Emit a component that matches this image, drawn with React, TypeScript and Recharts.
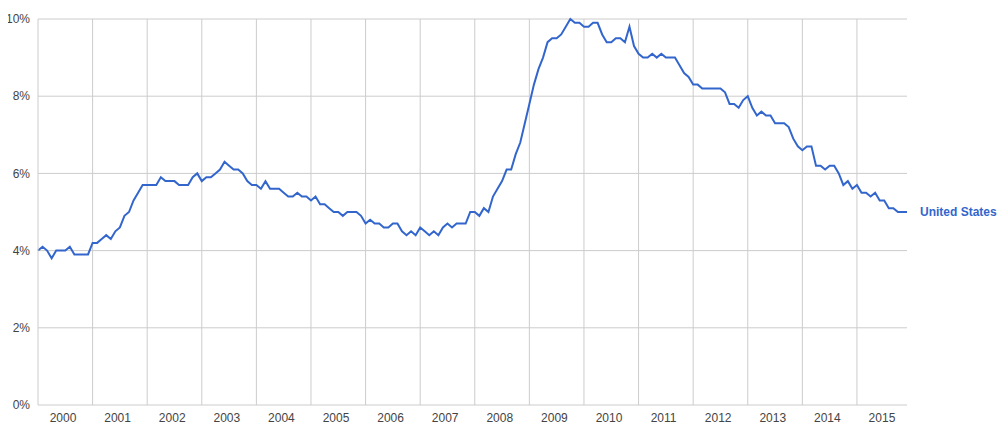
import React from 'react';
import {
  LineChart,
  Line,
  XAxis,
  YAxis,
  CartesianGrid,
  ReferenceLine
} from 'recharts';

// monthly unemployment rate (%), Jan..Dec for each year
const years = [2000, 2001, 2002, 2003, 2004, 2005, 2006, 2007, 2008, 2009, 2010, 2011, 2012, 2013, 2014, 2015];

const rates2000_2003 = [
  [4.0, 4.1, 4.0, 3.8, 4.0, 4.0, 4.0, 4.1, 3.9, 3.9, 3.9, 3.9],
  [4.2, 4.2, 4.3, 4.4, 4.3, 4.5, 4.6, 4.9, 5.0, 5.3, 5.5, 5.7],
  [5.7, 5.7, 5.7, 5.9, 5.8, 5.8, 5.8, 5.7, 5.7, 5.7, 5.9, 6.0],
  [5.8, 5.9, 5.9, 6.0, 6.1, 6.3, 6.2, 6.1, 6.1, 6.0, 5.8, 5.7]
];
const rates2004_2007 = [
  [5.7, 5.6, 5.8, 5.6, 5.6, 5.6, 5.5, 5.4, 5.4, 5.5, 5.4, 5.4],
  [5.3, 5.4, 5.2, 5.2, 5.1, 5.0, 5.0, 4.9, 5.0, 5.0, 5.0, 4.9],
  [4.7, 4.8, 4.7, 4.7, 4.6, 4.6, 4.7, 4.7, 4.5, 4.4, 4.5, 4.4],
  [4.6, 4.5, 4.4, 4.5, 4.4, 4.6, 4.7, 4.6, 4.7, 4.7, 4.7, 5.0]
];
const rates2008_2011 = [
  [5.0, 4.9, 5.1, 5.0, 5.4, 5.6, 5.8, 6.1, 6.1, 6.5, 6.8, 7.3],
  [7.8, 8.3, 8.7, 9.0, 9.4, 9.5, 9.5, 9.6, 9.8, 10.0, 9.9, 9.9],
  [9.8, 9.8, 9.9, 9.9, 9.6, 9.4, 9.4, 9.5, 9.5, 9.4, 9.8, 9.3],
  [9.1, 9.0, 9.0, 9.1, 9.0, 9.1, 9.0, 9.0, 9.0, 8.8, 8.6, 8.5]
];
const rates2012_2015 = [
  [8.3, 8.3, 8.2, 8.2, 8.2, 8.2, 8.2, 8.1, 7.8, 7.8, 7.7, 7.9],
  [8.0, 7.7, 7.5, 7.6, 7.5, 7.5, 7.3, 7.3, 7.3, 7.2, 6.9, 6.7],
  [6.6, 6.7, 6.7, 6.2, 6.2, 6.1, 6.2, 6.2, 6.0, 5.7, 5.8, 5.6],
  [5.7, 5.5, 5.5, 5.4, 5.5, 5.3, 5.3, 5.1, 5.1, 5.0, 5.0, 5.0]
];

const yTicks = [0, 2, 4, 6, 8, 10];
const seriesName = 'United States';

const allRates = [...rates2000_2003, ...rates2004_2007, ...rates2008_2011, ...rates2012_2015].flat();
const data = allRates.map((rate, i) => ({ i, rate }));
const lastIndex = data.length - 1;

const yearLabelTicks = years.map((_, k) => k * 12 + 5.5);
const yearBoundaries = years.slice(1).map((_, k) => (k + 1) * 12);

const FONT = 'Arial, "Liberation Sans", sans-serif';

const EndLabel = (props: any) => {
  const { x, y, index } = props;
  if (index !== lastIndex) return null;
  return (
    <text x={x + 13} y={y} dy={4} fill="#3366cc" fontSize={12} fontWeight="bold" fontFamily={FONT}>
      {seriesName}
    </text>
  );
};

const App: React.FC = () => {
  return (
    <div style={{ margin: '-8px 0 0 -8px', width: 1005, height: 436 }}>
      <LineChart
        width={1005}
        height={436}
        data={data}
        margin={{ top: 19, right: 98, left: 8, bottom: 1 }}
        style={{ fontFamily: FONT }}
      >
        <CartesianGrid vertical={false} stroke="#cccccc" />
        {yearBoundaries.map((b) => (
          <ReferenceLine key={b} x={b} stroke="#cccccc" />
        ))}
        <XAxis
          type="number"
          dataKey="i"
          domain={[0, lastIndex]}
          ticks={yearLabelTicks}
          tickFormatter={(v: number) => String(years[Math.floor(v / 12)])}
          axisLine={false}
          tickLine={false}
          height={30}
          interval={0}
          tick={{ fill: '#444444', fontSize: 12, fontFamily: FONT }}
        />
        <YAxis
          domain={[0, 10]}
          ticks={yTicks}
          tickFormatter={(v: number) => `${v}%`}
          width={30}
          axisLine={{ stroke: '#cccccc' }}
          tickLine={false}
          tick={{ fill: '#444444', fontSize: 12, fontFamily: FONT }}
        />
        <Line
          type="linear"
          dataKey="rate"
          name={seriesName}
          stroke="#3366cc"
          strokeWidth={2}
          dot={false}
          label={<EndLabel />}
          isAnimationActive={false}
        />
      </LineChart>
    </div>
  );
};

export default App;
